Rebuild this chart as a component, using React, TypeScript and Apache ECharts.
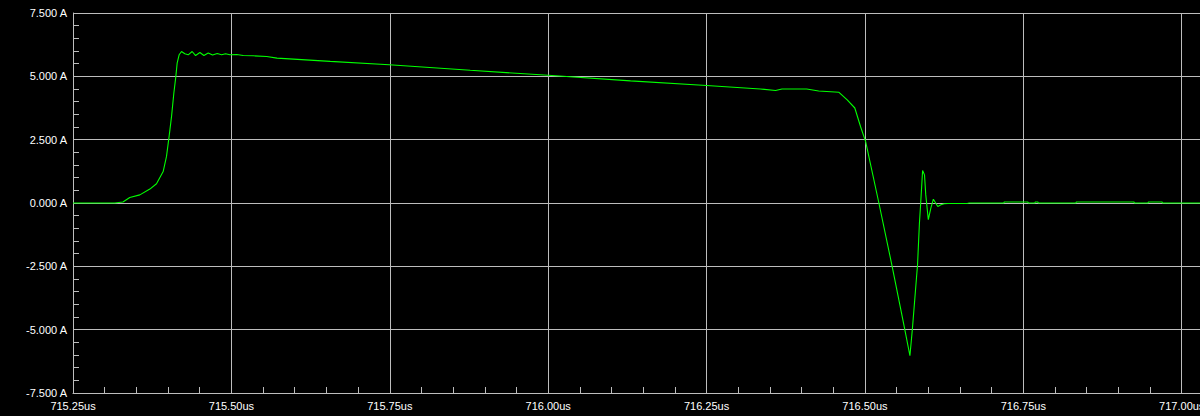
import React, { useEffect, useRef } from "react";
import * as echarts from "echarts";

// Time (us) and current (A) samples
const timeUs: number[] = [
  715.25, 715.316, 715.3288, 715.3396, 715.3555, 715.3713, 715.3818, 715.3923,
  715.3976, 715.4017, 715.4055, 715.4092, 715.4123, 715.4144, 715.4175, 715.4213,
  715.4265, 715.4318, 715.4381, 715.4435, 715.4503, 715.4566, 715.4634, 715.4703,
  715.4776, 715.4845, 715.4909, 715.4977, 715.5083, 715.5187, 715.5345, 715.5557,
  715.572, 715.656, 715.749, 715.877, 716.0, 716.13, 716.25, 716.335,
  716.359, 716.369, 716.408, 716.427, 716.459, 716.472, 716.484, 716.493,
  716.501, 716.522, 716.543, 716.562, 716.571, 716.575, 716.583, 716.586,
  716.588, 716.591, 716.594, 716.596, 716.6, 716.604, 716.608, 716.615,
  716.62, 716.625, 716.6313, 716.6613, 716.6645, 716.7195, 716.7196, 716.7574,
  716.7575, 716.7685, 716.7686, 716.7732, 716.7733, 716.8333, 716.8334, 716.9249,
  716.925, 716.9471, 716.9472, 716.9692, 716.9693, 717.032,
];
const currentA: number[] = [
  0.0, 0.0, 0.04, 0.22, 0.32, 0.55, 0.76, 1.24,
  1.84, 2.63, 3.41, 4.34, 4.99, 5.52, 5.85, 5.98,
  5.89, 5.85, 5.98, 5.82, 5.94, 5.82, 5.92, 5.84,
  5.9, 5.85, 5.89, 5.85, 5.86, 5.82, 5.81, 5.78,
  5.72, 5.59, 5.46, 5.24, 5.04, 4.82, 4.64, 4.5,
  4.44, 4.5, 4.5, 4.42, 4.37, 4.07, 3.75, 3.02,
  2.43, 0.0, -2.51, -4.88, -6.03, -4.94, -2.44, -0.79,
  0.0, 1.28, 1.11, 0.32, -0.66, -0.2, 0.15, -0.14,
  -0.07, -0.03, -0.02, -0.02, 0.0, 0.0, 0.04, 0.04,
  0.0, 0.0, 0.04, 0.04, 0.0, 0.0, 0.04, 0.04,
  0.0, 0.0, 0.04, 0.04, 0.0, 0.0,
];

const xMin = 715.25;
const xMax = 717.032;
const xStep = 0.25;
const yMin = -7.5;
const yMax = 7.5;
const yStep = 2.5;

export default function App() {
  const ref = useRef<HTMLDivElement>(null);

  useEffect(() => {
    if (!ref.current) return;
    const chart = echarts.init(ref.current, undefined, { renderer: "svg" });
    const data = timeUs.map((t, i) => [t, currentA[i]]);
    const gray = "#bdbdbd";
    const font = "'Liberation Sans', Arial, sans-serif";
    chart.setOption({
      animation: false,
      backgroundColor: "#000000",
      grid: {
        left: 73,
        right: -2,
        top: 13,
        bottom: 23,
        containLabel: false,
        outerBoundsMode: "none",
      },
      xAxis: {
        type: "value",
        min: xMin,
        max: xMax,
        interval: xStep,
        axisLine: { show: true, onZero: false, lineStyle: { color: gray, width: 1 } },
        axisTick: { show: true, inside: true, length: 6, lineStyle: { color: gray } },
        minorTick: { show: true, splitNumber: 5, length: 6, lineStyle: { color: gray } },
        splitLine: { show: true, lineStyle: { color: gray, width: 1 } },
        axisLabel: {
          color: "#ffffff",
          fontSize: 11,
          fontFamily: font,
          margin: 7,
          showMaxLabel: false,
          formatter: (v: number) => v.toFixed(2) + "us",
        },
      },
      yAxis: {
        type: "value",
        min: yMin,
        max: yMax,
        interval: yStep,
        axisLine: { show: true, onZero: false, lineStyle: { color: gray, width: 1 } },
        axisTick: { show: true, inside: true, length: 6, lineStyle: { color: gray } },
        minorTick: { show: true, splitNumber: 5, length: 6, lineStyle: { color: gray } },
        splitLine: { show: true, lineStyle: { color: gray, width: 1 } },
        axisLabel: {
          color: "#ffffff",
          fontSize: 11,
          fontFamily: font,
          margin: 6,
          formatter: (v: number) => v.toFixed(3) + " A",
        },
      },
      series: [
        {
          type: "line",
          data,
          showSymbol: false,
          symbol: "none",
          smooth: false,
          lineStyle: { color: "#00ff00", width: 1.1 },
          itemStyle: { color: "#00ff00" },
        },
      ],
    });
    return () => chart.dispose();
  }, []);

  return (
    <div
      ref={ref}
      style={{ position: "fixed", left: 0, top: 0, width: 1200, height: 416, background: "#000" }}
    />
  );
}
